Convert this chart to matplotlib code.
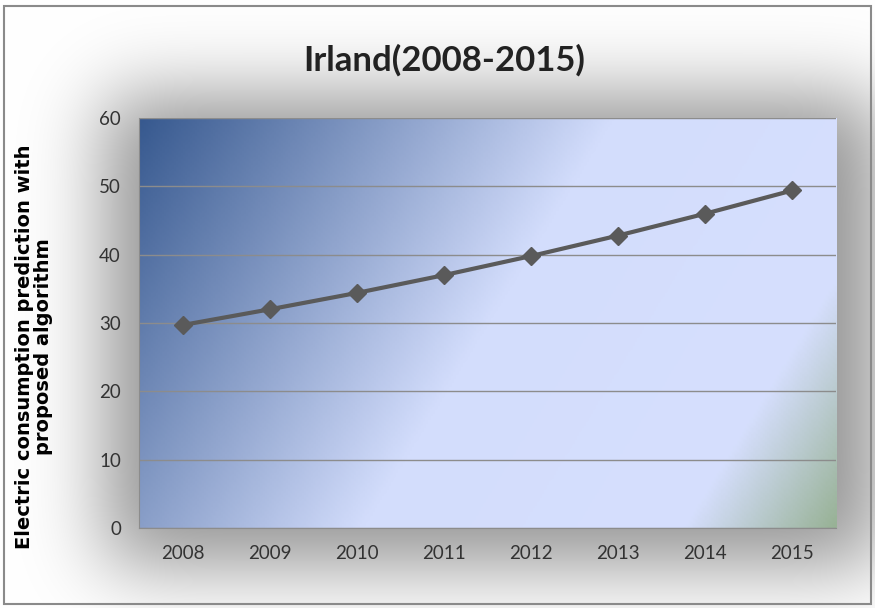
import math
import numpy as np
import matplotlib
matplotlib.use("Agg")
import matplotlib.pyplot as plt
from matplotlib.colors import LinearSegmentedColormap
from matplotlib.patches import Rectangle

# data
years = ["2008", "2009", "2010", "2011", "2012", "2013", "2014", "2015"]
prediction = [29.7, 32.0, 34.4, 37.0, 39.8, 42.8, 46.0, 49.4]
yticks = [0, 10, 20, 30, 40, 50, 60]

plt.rcParams['font.family'] = ['Lato', 'DejaVu Sans']

W, H = 875, 608
fig = plt.figure(figsize=(W / 100, H / 100), dpi=100, facecolor='white')

# soft grey shadow behind the plot area
bg = fig.add_axes([0, 0, 1, 1], zorder=0)
bg.set_axis_off()
erf = np.vectorize(math.erf)
xs = np.arange(W)
ys = np.arange(H)
s = 55.0
vx = 0.5 * (erf((xs - 105) / s) - erf((xs - 880) / s))
vy = 0.5 * (erf((ys - 95) / s) - erf((ys - 565) / s))
shade = 1 - 0.42 * np.outer(vy, vx)
bg.imshow(np.dstack([shade] * 3), extent=[0, W, H, 0], aspect='auto')
bg.set_xlim(0, W)
bg.set_ylim(H, 0)
bg.add_patch(Rectangle((4, 6), W - 8, H - 10, fill=False, edgecolor='#8a8a8a', linewidth=1.5))

ax = fig.add_axes([139 / W, 1 - 528 / H, 697 / W, 410 / H], zorder=1)

# diagonal gradient fill of the plot area
cmap = LinearSegmentedColormap.from_list('bg', [
    (0.0, '#37598f'),
    (0.50, '#d3ddfc'),
    (0.84, '#d6dffe'),
    (1.0, '#98b296'),
])
gx, gy = np.meshgrid(np.linspace(0, 697, 300), np.linspace(0, 410, 200))
t = (gx + 0.61 * gy) / (697 + 0.61 * 410)
ax.imshow(t, cmap=cmap, extent=[-0.5, 7.5, 0, 60], aspect='auto', origin='upper', zorder=0)

x = np.arange(len(years))
ax.plot(x, prediction, color='#5a5a5a', linewidth=3, marker='D', markersize=9.5, zorder=3)

ax.set_xlim(-0.5, 7.5)
ax.set_ylim(0, 60)
ax.set_yticks(yticks)
ax.set_xticks(x)
ax.set_xticklabels(years)
ax.grid(axis='y', color='#8c8c8c', linewidth=1)
ax.set_axisbelow(False)
ax.tick_params(length=0, labelsize=13.5, labelcolor='#333333')
ax.tick_params(axis='y', pad=13)
ax.tick_params(axis='x', pad=12)
for side in ['top', 'right']:
    ax.spines[side].set_visible(False)
for side in ['left', 'bottom']:
    ax.spines[side].set_color('#8c8c8c')

fig.text(34 / W, 1 - 347 / H, "Electric consumption prediction with\nproposed algorithm",
         rotation=90, ha='center', va='center', fontsize=14, fontweight='bold',
         family='DejaVu Sans', linespacing=1.0)
fig.text(444 / W, 1 - 60 / H, "Irland(2008-2015)", ha='center', va='center',
         fontsize=25, fontweight='bold', color='#222222')

fig.savefig('out.png', dpi=100, facecolor='white')
